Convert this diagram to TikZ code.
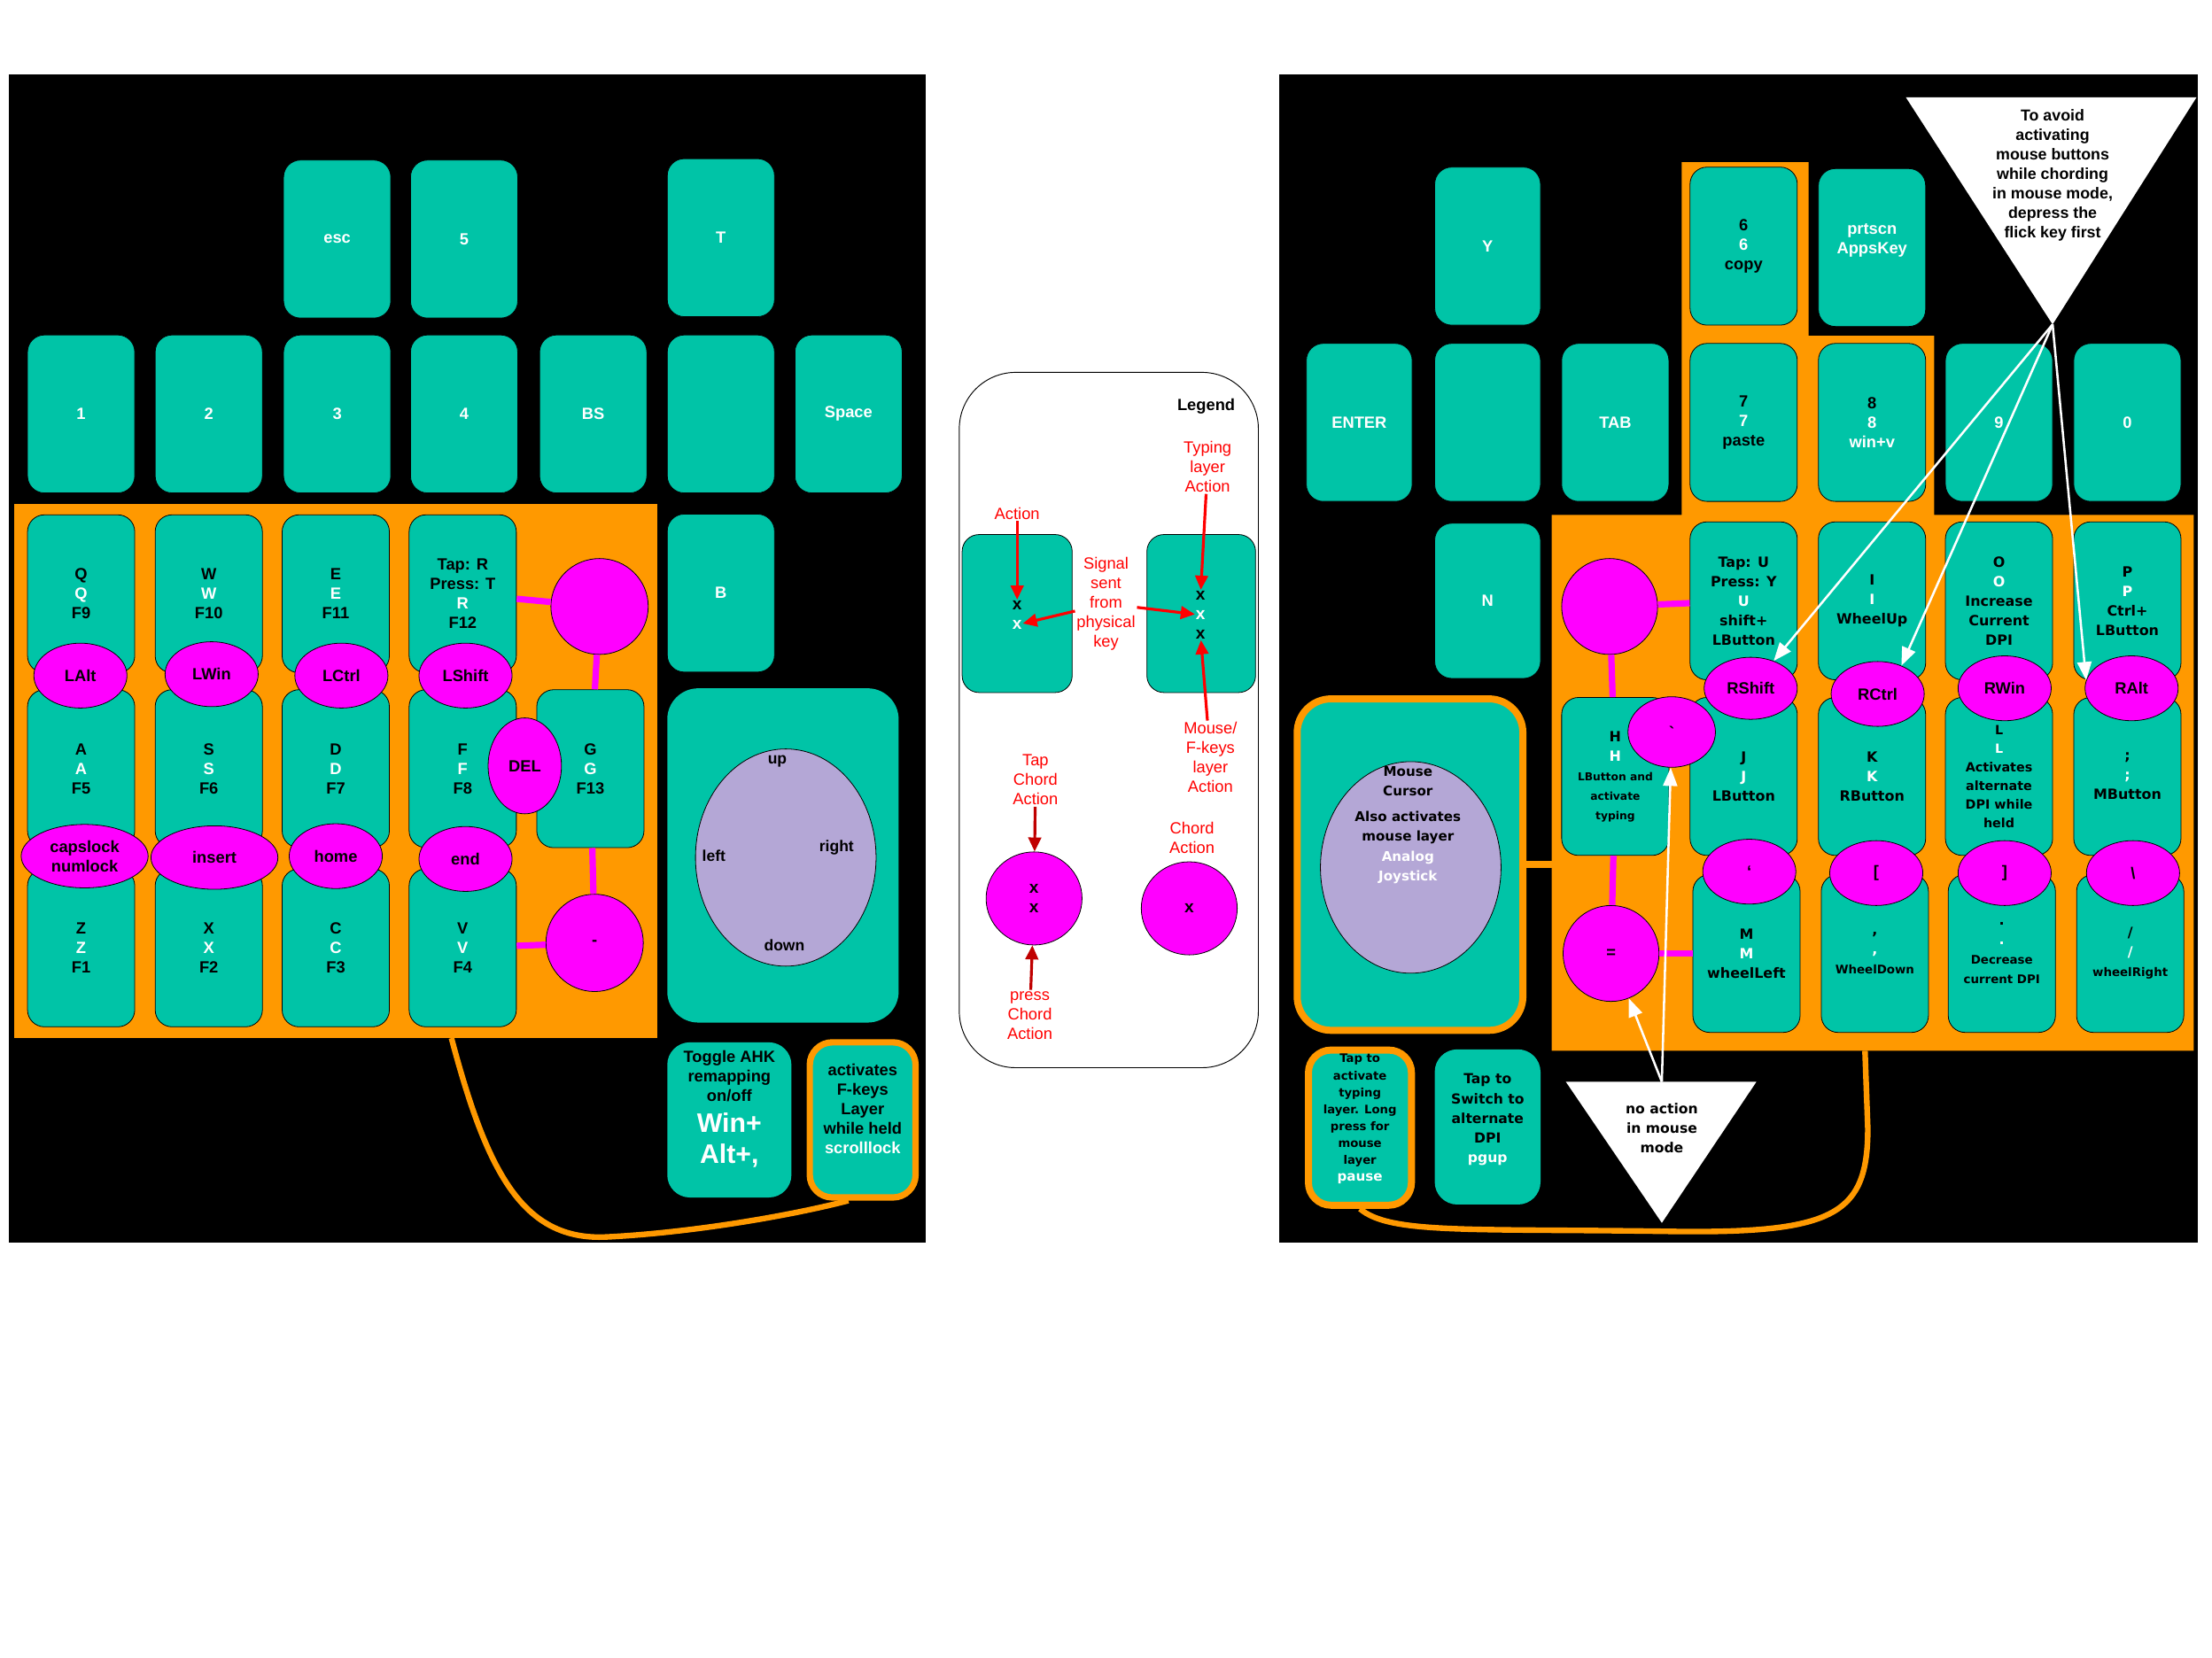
\documentclass[tikz,border=0pt]{standalone}
\usepackage{fontspec}
\setmainfont{Liberation Sans}
\newfontfamily\dejavu{DejaVu Sans}
\usetikzlibrary{shapes.geometric, arrows.meta}
\definecolor{keyteal}{HTML}{00C4A7}
\definecolor{chordpink}{HTML}{FF00FF}
\definecolor{layerorange}{HTML}{FF9900}
\definecolor{stickpurple}{HTML}{B4A7D6}
\definecolor{notered}{HTML}{FF0000}
\definecolor{darkred}{HTML}{C00000}
\newcommand{\wh}[1]{\textcolor{white}{#1}}
\newcommand{\bigwh}[1]{\textcolor{white}{\fontsize{19}{22}\selectfont #1}}
\newcommand{\smallcap}[1]{{\fontsize{8.4}{12}\selectfont #1}}
\newcommand{\tinycap}[1]{{\fontsize{7.7}{12}\selectfont #1}}
\tikzstyle{keycap}=[draw=black, line width=0.5pt, fill=keyteal, rounded corners=12pt, minimum width=76pt, minimum height=112pt, inner sep=0pt, align=center, font=\bfseries\fontsize{11.5}{13.8}\selectfont]
\tikzstyle{whitecap}=[keycap, text=white]
\tikzstyle{mousecap}=[keycap, font=\dejavu\bfseries\fontsize{10}{13.8}\selectfont]
\tikzstyle{chord}=[ellipse, draw=black, line width=0.5pt, fill=chordpink, minimum width=66pt, minimum height=46pt, inner sep=0pt, align=center, font=\bfseries\fontsize{11.5}{13.8}\selectfont]
\tikzstyle{chordlink}=[chordpink, line width=4.5pt]
\tikzstyle{layerbox}=[keycap, draw=layerorange, line width=4.5pt, rounded corners=16pt]
\tikzstyle{layercable}=[layerorange, line width=4pt]
\tikzstyle{stick}=[ellipse, draw=black, line width=0.5pt, fill=stickpurple, inner sep=0pt]
\tikzstyle{dirlabel}=[font=\bfseries\fontsize{11}{13}\selectfont]
\tikzstyle{legnote}=[text=notered, align=center, inner sep=1pt, font=\fontsize{11.5}{13.8}\selectfont]
\tikzstyle{legarrow}=[notered, line width=2pt, -{Triangle[length=10pt,width=9pt]}]
\tikzstyle{xmark}=[inner sep=0.5pt, font=\bfseries\fontsize{12}{13.8}\selectfont]
\tikzstyle{hintarrow}=[white, line width=1.6pt, -{Triangle[length=13pt,width=10pt]}]

\begin{document}
\begin{tikzpicture}[x=1pt, y=-1pt]
	\useasboundingbox (0,0) rectangle (1568,1175);
	\fill[white] (0,0) rectangle (1568,1175);
	\fill[black] (6,53) rectangle (656,881);
	\fill[black] (907,53) rectangle (1558,881);
	\fill[layerorange] (10,357) rectangle (466,736);
	\fill[layerorange] (1192,115) -- (1282,115) -- (1282,238) -- (1371,238) -- (1371,365) -- (1555,365) -- (1555,745) -- (1100,745) -- (1100,365) -- (1192,365) -- cycle;

	% left hand
	\node[whitecap] (esc) at (239,169.5) {esc};
	\node[whitecap] (five) at (329,169.5) {5};
	\node[whitecap] (t) at (511,168.5) {T};
	\node[whitecap] (one) at (57.5,293.5) {1};
	\node[whitecap] (two) at (148,293.5) {2};
	\node[whitecap] (three) at (239,293.5) {3};
	\node[whitecap] (four) at (329,293.5) {4};
	\node[whitecap] (bs) at (420.5,293.5) {BS};
	\node[whitecap] (blankl) at (511,293.5) {};
	\node[whitecap] (space) at (601.5,293.5) {Space};

	\node[keycap] (kq) at (57.5,421) {Q\\\wh{Q}\\F9};
	\node[keycap] (kw) at (148,421) {W\\\wh{W}\\F10};
	\node[keycap] (ke) at (238,421) {E\\\wh{E}\\F11};
	\node[keycap] (kr) at (328,421) {Tap: R\\Press: T\\\wh{R}\\F12};
	\node[keycap] (ka) at (57.5,545) {A\\\wh{A}\\F5};
	\node[keycap] (ks) at (148,545) {S\\\wh{S}\\F6};
	\node[keycap] (kd) at (238,545) {D\\\wh{D}\\F7};
	\node[keycap] (kf) at (328,545) {F\\\wh{F}\\F8};
	\node[keycap] (kg) at (418.5,545) {G\\\wh{G}\\F13};
	\node[keycap] (kz) at (57.5,672) {Z\\\wh{Z}\\F1};
	\node[keycap] (kx) at (148,672) {X\\\wh{X}\\F2};
	\node[keycap] (kc) at (238,672) {C\\\wh{C}\\F3};
	\node[keycap] (kv) at (328,672) {V\\\wh{V}\\F4};

	\node[whitecap] (b) at (511,420.5) {B};
	\node[keycap, draw=none, minimum width=164pt, minimum height=237pt, rounded corners=22pt] (stickl) at (555,606.5) {};
	\node[stick, minimum width=128pt, minimum height=154pt] (padl) at (557,608) {};
	\node[dirlabel] (up) at (551,540) {up};
	\node[dirlabel] (left) at (506,607) {left};
	\node[dirlabel] (right) at (593,601) {right};
	\node[dirlabel] (down) at (556,670) {down};

	\node[keycap, draw=none, minimum width=88pt, minimum height=110pt, rounded corners=16pt, text depth=18.5pt] (ahk) at (517,794) {Toggle AHK\\remapping\\on/off\\[7pt]\bigwh{Win+}\\[8pt]\bigwh{Alt+,}};
	\node[layerbox, minimum width=75pt, minimum height=110pt, text depth=16pt] (fkeys) at (611.5,794) {activates\\F-keys\\Layer\\while held\\\wh{scrolllock}};
	\coordinate (lcable) at (320,736);
	\draw[layercable] (lcable) .. controls (345,830) and (370,880) .. (430,877) .. controls (490,874) and (560,862) .. (fkeys.-100);

	\node[chord, minimum width=69pt, minimum height=68pt] (lthumb) at (425,430) {};
	\node[chord, minimum width=52pt, minimum height=68pt] (del) at (372,543) {DEL};
	\node[chord, minimum width=69pt, minimum height=69pt] (minus) at (421.5,668.5) {-};
	\draw[chordlink] (lthumb) -- (kr);
	\draw[chordlink] (lthumb) -- (kg);
	\draw[chordlink] (kg) -- (minus);
	\draw[chordlink] (minus) -- (kv);
	\node[chord] (lalt) at (57,479) {LAlt};
	\node[chord] (lwin) at (150,478) {LWin};
	\node[chord] (lctrl) at (242,479) {LCtrl};
	\node[chord] (lshift) at (330,479) {LShift};
	\node[chord, minimum width=90pt, minimum height=45pt] (caps) at (60,607) {capslock\\numlock};
	\node[chord, minimum width=90pt, minimum height=45pt] (insert) at (152,608) {insert};
	\node[chord] (home) at (238,607) {home};
	\node[chord] (end) at (330,609) {end};

	% legend
	\node[draw=black, line width=0.6pt, fill=white, rounded corners=40pt, minimum width=212pt, minimum height=493pt] (legend) at (786,510.5) {};
	\node[font=\bfseries\fontsize{11.5}{13.8}\selectfont] (legtitle) at (855,288) {Legend};
	\node[keycap, minimum width=78pt] (lk1) at (721,435) {};
	\node[keycap, minimum width=77pt] (lk2) at (851.5,435) {};
	\node[xmark] (xa) at (721,429) {x};
	\node[xmark, text=white] (xb) at (721,443) {x};
	\node[xmark] (xc) at (851,422) {x};
	\node[xmark, text=white] (xd) at (851,436) {x};
	\node[xmark] (xe) at (851,450) {x};
	\node[chord, minimum width=68pt, minimum height=66pt, font=\bfseries\fontsize{12}{13.8}\selectfont] (ctap) at (733,637) {x\\x};
	\node[chord, minimum width=68pt, minimum height=66pt, font=\bfseries\fontsize{12}{13.8}\selectfont] (cchord) at (843,644) {x};
	\node[legnote] (lact) at (721,364) {Action};
	\node[legnote] (lsig) at (784,428) {Signal\\sent\\from\\physical\\key};
	\node[legnote] (ltyp) at (856,331) {Typing\\layer\\Action};
	\node[legnote] (lmou) at (858,537) {Mouse/\\F-keys\\layer\\Action};
	\node[legnote] (ltap) at (734,553) {Tap\\Chord\\Action};
	\node[legnote] (lpress) at (730,720) {press\\Chord\\Action};
	\node[legnote] (lchord) at (845,594) {Chord\\Action};
	\draw[legarrow] (lact) -- (xa);
	\draw[legarrow] (lsig) -- (xb);
	\draw[legarrow] (lsig) -- (xd);
	\draw[legarrow] (ltyp) -- (xc);
	\draw[legarrow] (lmou) -- (xe);
	\draw[legarrow, darkred] (ltap) -- (ctap);
	\draw[legarrow, darkred] (lpress) -- (ctap);

	% right hand
	\node[whitecap, minimum width=75pt] (y) at (1054.5,174.5) {Y};
	\node[keycap] (six) at (1236,174.5) {6\\\wh{6}\\copy};
	\node[whitecap, text depth=12.4pt] (prt) at (1327,175.5) {prtscn\\AppsKey};
	\node[whitecap, minimum width=75pt] (enter) at (963.5,299.5) {ENTER};
	\node[whitecap, minimum width=75pt] (blankr) at (1054.5,299.5) {};
	\node[whitecap] (tab) at (1145,299.5) {TAB};
	\node[keycap] (seven) at (1236,299.5) {7\\\wh{7}\\paste};
	\node[keycap] (eight) at (1327,299.5) {8\\\wh{8}\\\wh{win+v}};
	\node[whitecap] (nine) at (1417,299.5) {9};
	\node[whitecap] (zero) at (1508,299.5) {0};
	\node[whitecap, minimum width=75pt, minimum height=110pt] (n) at (1054.5,426) {N};

	\node[mousecap] (ku) at (1236,426) {Tap: U\\Press: Y\\\wh{U}\\shift+\\LButton};
	\node[mousecap] (ki) at (1327,426) {I\\\wh{I}\\WheelUp};
	\node[mousecap] (ko) at (1417,426) {O\\\wh{O}\\Increase\\Current\\DPI};
	\node[mousecap] (kp) at (1508,426) {P\\\wh{P}\\Ctrl+\\LButton};
	\node[mousecap] (kh) at (1145,550.5) {H\\\wh{H}\\\tinycap{LButton and}\\\tinycap{activate}\\\tinycap{typing}};
	\node[mousecap] (kj) at (1236,550.5) {J\\\wh{J}\\LButton};
	\node[mousecap] (kk) at (1327,550.5) {K\\\wh{K}\\RButton};
	\node[mousecap, font=\dejavu\bfseries\fontsize{9}{13.2}\selectfont] (kl) at (1417,550.5) {L\\\wh{L}\\Activates\\alternate\\DPI while\\held};
	\node[mousecap] (ksemi) at (1508,550.5) {;\\\wh{;}\\MButton};
	\node[mousecap] (km) at (1238,676) {M\\\wh{M}\\wheelLeft};
	\node[mousecap] (kcomma) at (1329,676) {,\\\wh{,}\\\smallcap{WheelDown}};
	\node[mousecap] (kperiod) at (1419,676) {.\\\wh{.}\\\smallcap{Decrease}\\\smallcap{current DPI}};
	\node[mousecap] (kslash) at (1510,676) {/\\\wh{/}\\\smallcap{wheelRight}};

	\node[layerbox, minimum width=160pt, minimum height=235pt, line width=5pt, rounded corners=24pt] (mousebox) at (999.5,613) {};
	\node[stick, minimum width=128pt, minimum height=150pt] (padr) at (1000,615) {};
	\node[align=center, font=\dejavu\bfseries\fontsize{9.5}{14}\selectfont] (padtext) at (998,585) {Mouse\\Cursor\\[4pt]Also activates\\mouse layer\\\wh{Analog}\\\wh{Joystick}};
	\coordinate (rlayer) at (1100,613);
	\draw[layercable, line width=5pt] (mousebox) -- (rlayer);

	\node[layerbox, minimum width=73pt, minimum height=110pt, line width=5pt, text depth=14pt, font=\dejavu\bfseries\fontsize{8.3}{12}\selectfont] (tapbox) at (964,799.5) {Tap to\\activate\\typing\\layer. Long\\press for\\mouse\\layer\\\wh{\fontsize{9.5}{12}\selectfont pause}};
	\node[keycap, draw=none, minimum width=75pt, minimum height=110pt, rounded corners=16pt, text depth=12.3pt, font=\dejavu\bfseries\fontsize{9.8}{14}\selectfont] (dpi) at (1054.5,799) {Tap to\\Switch to\\alternate\\DPI\\\wh{pgup}};
	\coordinate (rcable) at (1322,745);
	\draw[layercable] (tapbox.south) .. controls (985,875) and (1040,871) .. (1180,873) .. controls (1300,875) and (1324,862) .. (1324,800) -- (rcable);

	\node[chord, minimum width=68pt, minimum height=68pt] (rthumb) at (1141,430) {};
	\node[chord, minimum width=68pt, minimum height=68pt] (eq) at (1142,676) {=};
	\draw[chordlink] (rthumb) -- (ku);
	\draw[chordlink] (rthumb) -- (kh);
	\draw[chordlink] (kh) -- (eq);
	\draw[chordlink] (eq) -- (km);
	\node[chord, minimum height=44pt] (rshift) at (1241,488) {RShift};
	\node[chord] (rctrl) at (1331,492) {RCtrl};
	\node[chord] (rwin) at (1421,488) {RWin};
	\node[chord] (ralt) at (1511,488) {RAlt};
	\node[chord, minimum width=62pt, minimum height=50pt] (grave) at (1185,519) {\textasciigrave};
	\node[chord] (quote) at (1240,618) {‘};
	\node[chord] (lbrack) at (1330,619) {[};
	\node[chord] (rbrack) at (1421,619) {]};
	\node[chord] (bslash) at (1512,619) {\textbackslash};

	\fill[white] (1110,767) -- (1245,767) -- (1178,867) -- cycle;
	\node[align=center, font=\dejavu\bfseries\fontsize{9.8}{13.8}\selectfont] (noaction) at (1178,800) {no action\\in mouse\\mode};
	\coordinate (notip) at (1178,767);
	\fill[white] (1351,69) -- (1557,69) -- (1455,230) -- cycle;
	\node[align=center, font=\bfseries\fontsize{11.2}{13.8}\selectfont] (avoid) at (1455,124.5) {To avoid\\activating\\mouse buttons\\while chording\\in mouse mode,\\depress the\\flick key first};
	\coordinate (avoidtip) at (1455,230);
	\draw[hintarrow] (avoidtip) -- (rshift.50);
	\draw[hintarrow] (avoidtip) -- (rctrl.50);
	\draw[hintarrow] (avoidtip) -- (ralt.170);
	\draw[hintarrow] (notip) -- (eq);
	\draw[hintarrow] (notip) -- (grave);
\end{tikzpicture}
\end{document}
